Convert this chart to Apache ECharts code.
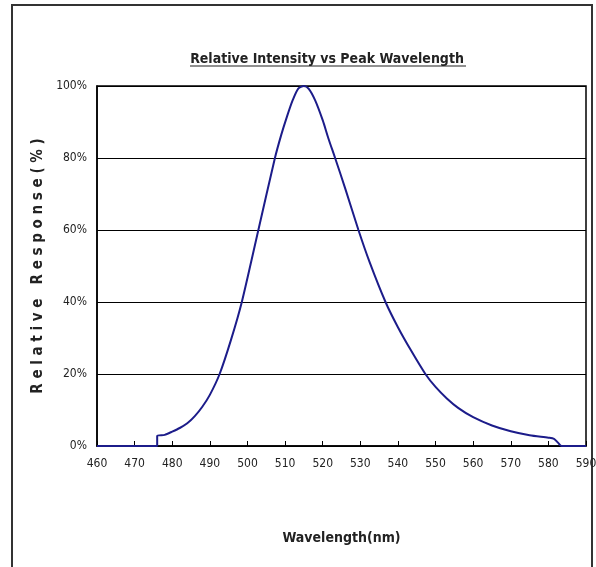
<!DOCTYPE html>
<html>
<head>
<meta charset="utf-8">
<script src="https://cdn.jsdelivr.net/npm/echarts@6/dist/echarts.min.js"></script>
<style>
html,body{margin:0;padding:0;background:#fff;}
#c{width:596px;height:567px;}
</style>
</head>
<body>
<div id="c"></div>
<script>
const chartTitle = 'Relative Intensity vs Peak Wavelength';
const xAxisName = 'Wavelength(nm)';
const yAxisName = 'R e l a t i v e   R e s p o n s e ( % )';
const wavelength = [460, 476, 476, 478, 480, 482, 484, 486, 488, 490, 492.6, 495.6, 498.5, 502.9, 507.3, 509, 510.5, 512, 513.5, 515, 516.3, 518, 520, 521.5, 523.3, 526, 529.5, 532.5, 536.7, 540, 543.5, 547.3, 550, 553, 556, 560, 565, 570, 575, 580, 581.5, 582.5, 583.5, 590];
const response   = [0, 0, 2.8, 3.1, 4, 5, 6.3, 8.3, 10.9, 14.2, 20, 29.4, 40, 60, 80, 86.5, 91.5, 96, 99.3, 100, 99.2, 96, 90.5, 85.5, 80, 71.5, 60, 51, 40, 33, 26.5, 20, 16.4, 13.2, 10.6, 8, 5.7, 4.1, 3, 2.3, 2, 1, 0, 0];
const xTicks = {min: 460, max: 590, interval: 10};
const yTicks = {min: 0, max: 100, interval: 20};

const font = '"Liberation Sans Narrow", "DejaVu Sans Condensed", Arial, sans-serif';
const chart = echarts.init(document.getElementById('c'));
chart.setOption({
  backgroundColor: '#fff',
  animation: false,
  title: {
    text: chartTitle,
    left: 322, top: 47, textAlign: 'center',
    textStyle: {fontFamily: font, fontSize: 14, fontWeight: 'bold', color: '#222'}
  },
  graphic: [
    {type: 'rect', shape: {x: 12, y: 5, width: 580, height: 600}, style: {fill: 'none', stroke: '#333', lineWidth: 2}, z: 0},
    {type: 'line', shape: {x1: 190, y1: 66, x2: 466, y2: 66}, style: {stroke: '#222', lineWidth: 1.2}}
  ],
  grid: {left: 97, right: 10, top: 86, bottom: 121, outerBoundsMode: 'none', containLabel: false, show: true, borderColor: '#000', borderWidth: 1.5, backgroundColor: '#fff'},
  xAxis: {
    type: 'value', min: xTicks.min, max: xTicks.max, interval: xTicks.interval,
    name: xAxisName, nameLocation: 'middle', nameGap: 85,
    nameTextStyle: {fontFamily: font, fontSize: 14, fontWeight: 'bold', color: '#222'},
    axisLine: {lineStyle: {color: '#000', width: 1.5}},
    axisTick: {inside: true, length: 5, lineStyle: {color: '#000'}},
    axisLabel: {fontFamily: font, fontSize: 12, color: '#222', margin: 12, hideOverlap: false},
    splitLine: {show: false}
  },
  yAxis: {
    type: 'value', min: yTicks.min, max: yTicks.max, interval: yTicks.interval,
    name: yAxisName, nameLocation: 'middle', nameGap: 46,
    nameTextStyle: {fontFamily: font, fontSize: 15, fontWeight: 'bold', color: '#222'},
    axisLine: {show: true, lineStyle: {color: '#000', width: 1.5}},
    axisTick: {show: false},
    axisLabel: {fontFamily: font, fontSize: 12, color: '#222', margin: 10, formatter: '{value}%'},
    splitLine: {show: true, lineStyle: {color: '#000', width: 1}}
  },
  series: [{
    type: 'line',
    data: wavelength.map((w, i) => [w, response[i]]),
    showSymbol: false,
    smooth: 0.25,
    lineStyle: {color: '#1c1c8a', width: 2},
    z: 5
  }]
});
</script>
</body>
</html>
